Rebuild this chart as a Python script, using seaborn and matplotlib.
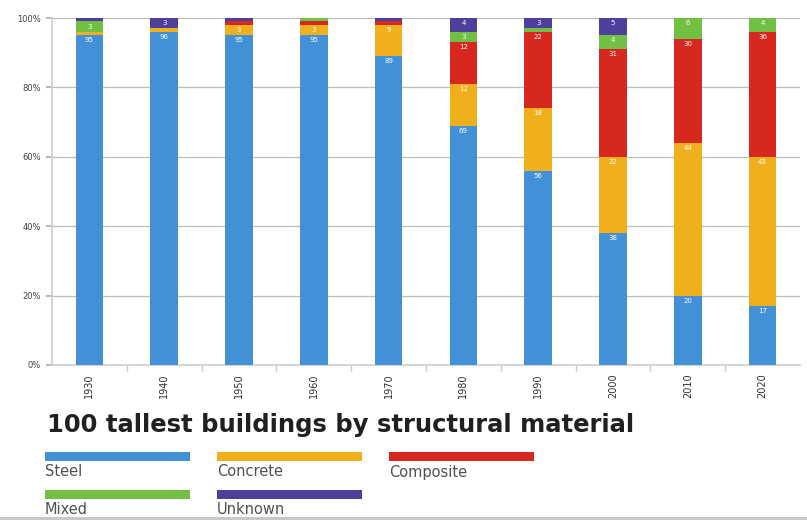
import matplotlib
matplotlib.use("Agg")
import matplotlib.pyplot as plt
from matplotlib.patches import Rectangle
import numpy as np
import pandas as pd
import seaborn as sns

# Share (%) of the 100 tallest buildings by structural system, per decade
years = ["1930", "1940", "1950", "1960", "1970", "1980", "1990", "2000", "2010", "2020"]
materials = ["Steel", "Concrete", "Composite", "Mixed", "Unknown"]
steel = [95, 96, 95, 95, 89, 69, 56, 38, 20, 17]
concrete = [1, 1, 3, 3, 9, 12, 18, 22, 44, 43]
composite = [0, 0, 1, 1, 1, 12, 22, 31, 30, 36]
mixed = [3, 0, 0, 1, 0, 3, 1, 4, 6, 4]
unknown = [1, 3, 1, 0, 1, 4, 3, 5, 0, 0]
colors = ["#4290d6", "#f0b01e", "#d7281f", "#72c043", "#4f3f9c"]

series = [steel, concrete, composite, mixed, unknown]
df = pd.DataFrame({m: v for m, v in zip(materials, series)}, index=years)
cum = df.cumsum(axis=1)

sns.set_theme(style="white")
plt.rcParams["font.family"] = ["DejaVu Sans"]

fig = plt.figure(figsize=(8.07, 5.20), dpi=100)
ax = fig.add_axes([52 / 807, 1 - 365 / 520, 748 / 807, 347 / 520])

# Stack by overpainting cumulative totals, topmost layer first
for m, c in reversed(list(zip(materials, colors))):
    sns.barplot(x=years, y=cum[m].values, order=years, color=c, width=0.37,
                saturation=1, ax=ax, zorder=3, linewidth=0)

# Value labels at the inside top of each segment
for i, yr in enumerate(years):
    for m in materials:
        v = df.loc[yr, m]
        if v >= 3:
            ax.text(i, cum.loc[yr, m] - 0.6, f"{v}", ha="center", va="top",
                    color="white", fontsize=5, zorder=4)

ax.set_xlim(-0.5, len(years) - 0.5)
ax.set_ylim(0, 100)
ax.set_yticks(np.arange(0, 101, 20))
ax.set_yticklabels([f"{t}%" for t in range(0, 101, 20)], fontsize=6, color="#404040")
ax.set_xticks(range(len(years)))
ax.set_xticklabels(years, rotation=90, fontsize=7, color="#303030")
ax.set_xticks(np.arange(0.5, len(years) - 1, 1), minor=True)
ax.tick_params(axis="x", which="minor", length=4, color="#c8c8c8", bottom=True)
ax.tick_params(axis="x", which="major", length=0, pad=6)
ax.tick_params(axis="y", length=4, color="#b0b0b0", left=True, pad=4)
ax.yaxis.grid(True, color="#bdbdbd", linewidth=0.9, zorder=0)
ax.set_axisbelow(True)
for side in ["top", "right"]:
    ax.spines[side].set_visible(False)
ax.spines["left"].set_color("#d0d0d0")
ax.spines["bottom"].set_color("#d0d0d0")
ax.set_xlabel("")
ax.set_ylabel("")

fig.text(47 / 807, 1 - 425 / 520, "100 tallest buildings by structural material",
         fontsize=17.5, fontweight="bold", color="#202020", va="center", ha="left")

# Legend: swatch bar above each name
slots = [(45, 452), (217, 452), (389, 452), (45, 490), (217, 490)]
for (x0, y0), m, c in zip(slots, materials, colors):
    fig.add_artist(Rectangle((x0 / 807, 1 - (y0 + 9) / 520), 145 / 807, 9 / 520,
                             transform=fig.transFigure, color=c, lw=0))
    fig.text(x0 / 807, 1 - (y0 + 20) / 520, m, fontsize=10.5, color="#505050",
             va="center", ha="left")

fig.add_artist(Rectangle((0, 0), 1, 3 / 520, transform=fig.transFigure,
                         color="#c8c8c8", lw=0))

fig.savefig("out.png", dpi=100)
